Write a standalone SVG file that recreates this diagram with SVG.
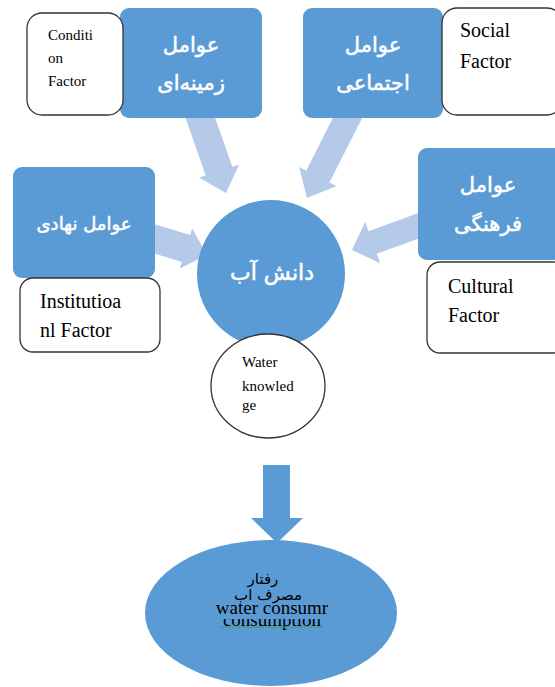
<svg xmlns="http://www.w3.org/2000/svg" width="555" height="687" viewBox="0 0 555 687">
<style>
.blue{fill:#5b9bd5;}
.box{fill:#5b9bd5;}
.note{fill:#ffffff;stroke:#333333;stroke-width:1.3;}
.arrow{fill:#b4cae8;}
.ar{font-family:"DejaVu Sans",sans-serif;fill:#ffffff;stroke:#ffffff;stroke-width:0.5;text-anchor:middle;}
.en{font-family:"Liberation Serif","Times New Roman","DejaVu Serif",serif;fill:#000000;}
.ard{font-family:"DejaVu Sans",sans-serif;fill:#000000;text-anchor:middle;}
</style>
<defs>
<clipPath id="clipCons"><rect x="150" y="619" width="250" height="20"/></clipPath>
</defs>
<rect width="555" height="687" fill="#ffffff"/>
<g id="connectors">
<polygon class="arrow" points="210.2,103.7 232.3,166.8 239,164.7 226,193 199,177.5 205.7,175.4 183.6,112.3"/>
<polygon class="arrow" points="364.2,113.9 329.4,182.5 336.5,186.1 307,198 299.1,167.1 306.2,170.7 341,102.1"/>
<polygon class="arrow" points="149.1,222.6 190.1,235.1 192.2,228.4 207,255 179.8,268.6 181.9,261.9 140.9,249.4"/>
<polygon class="arrow" points="423.9,211.1 368.6,231.2 365.2,221.8 352,250 380.2,263.2 376.8,253.8 432.1,233.7"/>
<polygon class="blue" points="263,465 290,465 290,518 303,518 277,543 251,518 263,518"/>
</g>
<g id="node-context">
<rect class="box" x="120" y="8" width="142" height="110" rx="9"/>
<text class="ar" x="191" y="52" font-size="21">عوامل</text>
<text class="ar" x="191" y="90" font-size="21">زمینه‌ای</text>
</g>
<g id="node-condition">
<rect class="note" x="27" y="13" width="96" height="102" rx="15"/>
<text class="en" x="48" y="40" font-size="15">Conditi</text>
<text class="en" x="48" y="63" font-size="15">on</text>
<text class="en" x="48" y="86" font-size="15">Factor</text>
</g>
<g id="node-social-fa">
<rect class="box" x="303" y="8" width="140" height="110" rx="9"/>
<text class="ar" x="373" y="52" font-size="21">عوامل</text>
<text class="ar" x="373" y="90" font-size="21">اجتماعی</text>
</g>
<g id="node-social">
<rect class="note" x="442" y="8" width="120" height="107" rx="15"/>
<text class="en" x="460" y="37" font-size="20">Social</text>
<text class="en" x="460" y="68" font-size="20">Factor</text>
</g>
<g id="node-institutional-fa">
<rect class="box" x="13" y="167" width="142" height="111" rx="9"/>
<text class="ar" x="84" y="230" font-size="18">عوامل نهادی</text>
</g>
<g id="node-institutional">
<rect class="note" x="20" y="278" width="140" height="74" rx="13"/>
<text class="en" x="40" y="308" font-size="20">Institutioa</text>
<text class="en" x="40" y="337" font-size="20">nl Factor</text>
</g>
<g id="node-cultural-fa">
<rect class="box" x="418" y="148" width="145" height="112" rx="9"/>
<text class="ar" x="488" y="192" font-size="21">عوامل</text>
<text class="ar" x="488" y="231" font-size="21">فرهنگی</text>
</g>
<g id="node-cultural">
<rect class="note" x="427" y="262" width="140" height="91" rx="13"/>
<text class="en" x="448" y="293" font-size="20">Cultural</text>
<text class="en" x="448" y="322" font-size="20">Factor</text>
</g>
<g id="node-knowledge-fa">
<circle class="blue" cx="271" cy="274" r="74"/>
<text class="ar" x="272" y="280" font-size="22">دانش آب</text>
</g>
<g id="node-knowledge">
<ellipse class="note" cx="268" cy="386" rx="57" ry="52"/>
<text class="en" x="242" y="367" font-size="15">Water</text>
<text class="en" x="242" y="391" font-size="15">knowled</text>
<text class="en" x="242" y="410" font-size="15">ge</text>
</g>
<g id="node-behavior">
<ellipse class="blue" cx="271" cy="613" rx="126" ry="73"/>
<text class="ard" x="263" y="584" font-size="15">رفتار</text>
<text class="ard" x="268" y="600" font-size="15">مصرف اب</text>
<text class="en" x="272" y="614" font-size="19" text-anchor="middle">water consumr</text>
<text class="en" x="272" y="626" font-size="19" text-anchor="middle" clip-path="url(#clipCons)">consumption</text>
<line x1="220" y1="627" x2="325" y2="627" stroke="#3a9a3a" stroke-width="1" stroke-dasharray="2,1"/>
</g>
</svg>
